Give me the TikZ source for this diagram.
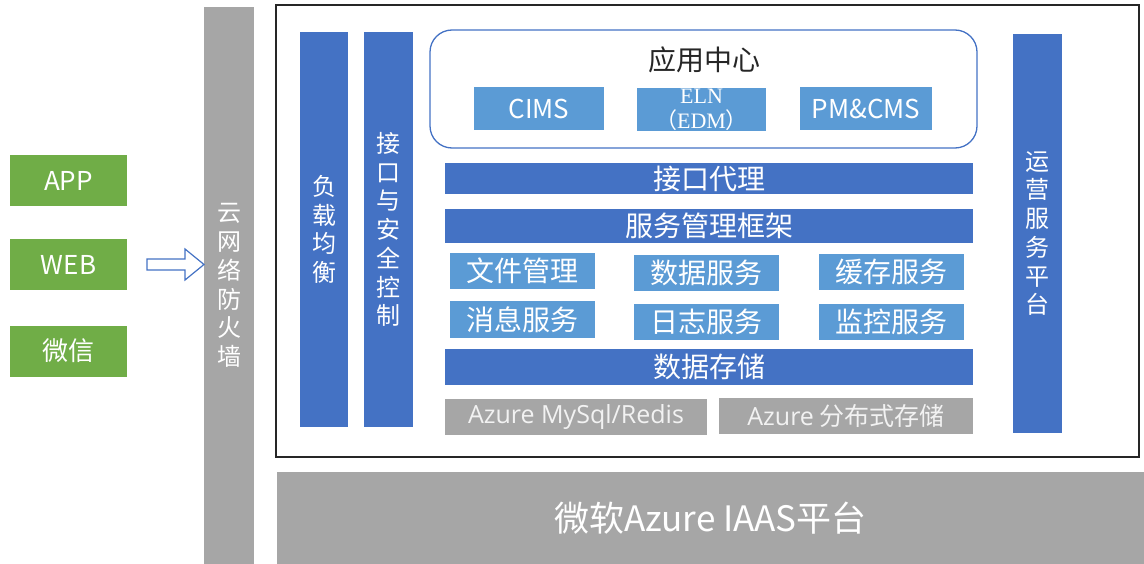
\documentclass[tikz,border=0pt]{standalone}
\usepackage{fontspec}
\setmainfont{Noto Sans CJK SC}
\newfontfamily\cjkfont{Noto Sans CJK SC}
\newfontfamily\elnfont{Liberation Serif}
\newfontfamily\latinfont{Open Sans}
\definecolor{bardark}{HTML}{4472C4}
\definecolor{barlight}{HTML}{5B9BD5}
\definecolor{greybar}{HTML}{A6A6A6}
\definecolor{appgreen}{HTML}{70AD47}
\newcommand\barfont{\fontsize{28}{32}\selectfont}
\newcommand\vfont{\fontsize{24}{28.7}\selectfont}
\begin{document}
\begin{tikzpicture}[x=1pt,y=-1pt,
  box/.style={inner sep=0pt,outer sep=0pt,text=white,align=center},
  client/.style={box,fill=appgreen,minimum width=117pt,minimum height=51pt,font=\fontsize{26}{30}\selectfont},
  vbar/.style={box,fill=bardark,font=\vfont},
  hbar/.style={box,fill=bardark,minimum width=528pt,font=\barfont},
  service/.style={box,fill=barlight,minimum width=145pt,minimum height=36pt,font=\barfont},
  app/.style={box,fill=barlight,minimum width=130pt,minimum height=43pt,font=\fontsize{26}{30}\selectfont},
  store/.style={box,fill=greybar,minimum height=36pt,text=white!95!black,font=\fontsize{25}{29}\selectfont},
  inarrow/.style={draw=bardark,fill=white,line width=1.2pt,line join=miter}]
 \useasboundingbox (0,0) rectangle (1144,564);
 % clients and firewall
 \node[client] (app) at (68.5,180.5) {APP};
 \node[client] (web) at (68.5,264.5) {WEB};
 \node[client] (wx) at (68.5,351) {微信};
 \node[vbar,fill=greybar,minimum width=50pt,minimum height=557pt] (fw) at (229,285.5) {云\\网\\络\\防\\火\\墙};
 \draw[inarrow] (web.east) ++(20,-5.5) -- ++(38,0) -- ++(0,-10) -- ++(19,15.5) -- ++(-19,15.5) -- ++(0,-10) -- ++(-38,0) -- cycle;
 % cloud frame
 \draw[black!85,line width=1.6pt] (276,5) rectangle (1139,457);
 \node[box,fill=greybar,minimum width=867pt,minimum height=92pt,font=\fontsize{35}{40}\selectfont] (iaas) at (710.5,518) {微软Azure IAAS平台};
 \node[vbar,minimum width=48pt,minimum height=395pt] (lb) at (324,229.5) {负\\载\\均\\衡};
 \node[vbar,minimum width=49pt,minimum height=395pt] (sec) at (388.5,229.5) {接\\口\\与\\安\\全\\控\\制};
 \node[vbar,minimum width=49pt,minimum height=398pt] (ops) at (1037.5,233.5) {运\\营\\服\\务\\平\\台};
 % application centre
 \draw[bardark,line width=1.3pt,rounded corners=22pt] (430,30) rectangle (977,148);
 \node[font=\barfont,text=black!85] (center) at (704,60) {应用中心};
 \node[app] (cims) at (539,109) {CIMS};
 \node[app,minimum width=129pt,font=\elnfont\fontsize{22}{25}\selectfont] (eln) at (701.5,110) {ELN\\{\cjkfont（}EDM{\cjkfont）}};
 \node[app,minimum width=132pt] (pm) at (866,109) {PM\&CMS};
 % service layers
 \node[hbar,minimum height=31pt] (proxy) at (709,178.5) {接口代理};
 \node[hbar,minimum height=34pt] (frame) at (709,226) {服务管理框架};
 \node[service] (file) at (522,271) {文件管理};
 \node[service] (data) at (706.5,273) {数据服务};
 \node[service] (cache) at (891.5,272) {缓存服务};
 \node[service] (msg) at (522,319.5) {消息服务};
 \node[service] (log) at (706.5,322) {日志服务};
 \node[service] (mon) at (891.5,322) {监控服务};
 \node[hbar,minimum height=36pt] (db) at (709,367) {数据存储};
 \node[store,minimum width=262pt] (sql) at (576,417) {\latinfont Azure MySql/Redis};
 \node[store,minimum width=254pt] (blob) at (846,416) {{\latinfont Azure} 分布式存储};
\end{tikzpicture}
\end{document}
